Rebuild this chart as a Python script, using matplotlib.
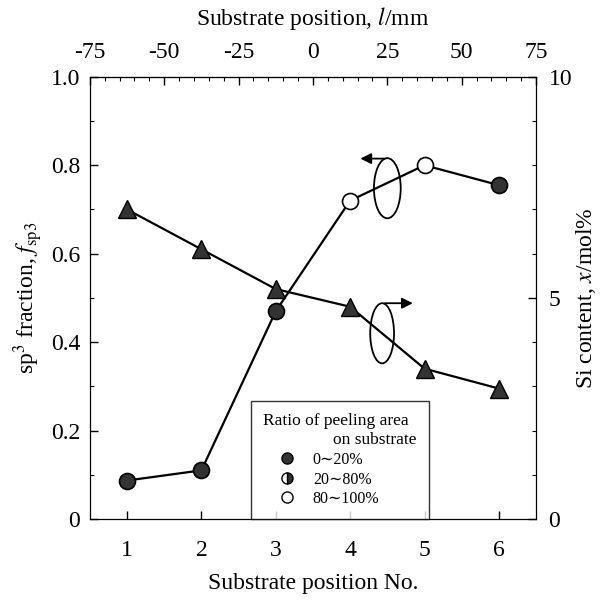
import matplotlib
matplotlib.use("Agg")
import matplotlib.pyplot as plt
from matplotlib.lines import Line2D
from matplotlib.patches import Ellipse
from matplotlib.ticker import MultipleLocator, FixedLocator, FuncFormatter

plt.rcParams['font.family'] = ['Liberation Serif', 'DejaVu Serif']
plt.rcParams['mathtext.fontset'] = 'stix'
plt.rcParams['axes.unicode_minus'] = False

# data
position_no = [1, 2, 3, 4, 5, 6]
sp3_fraction = [0.087, 0.11, 0.47, 0.72, 0.80, 0.755]
peeling_class = ['low', 'low', 'low', 'high', 'high', 'low']
si_content = [7.0, 6.1, 5.2, 4.8, 3.4, 2.95]
position_mm_ticks = [-75, -50, -25, 0, 25, 50, 75]

face = {'low': '#333333', 'mid': '#333333', 'high': 'white'}
ink = 'black'

fig = plt.figure(figsize=(6.03, 6.00), dpi=100)
ax = fig.add_axes([0.149, 0.135, 0.74, 0.737])

# sp3 fraction (left axis)
ax.plot(position_no, sp3_fraction, color=ink, lw=1.6, zorder=3)
for x, y, c in zip(position_no, sp3_fraction, peeling_class):
    ax.plot(x, y, 'o', ms=11.5, mfc=face[c], mec=ink, mew=1.2, zorder=4)

ax.set_xlim(0.5, 6.5)
ax.set_ylim(0, 1.0)
ax.xaxis.set_major_locator(MultipleLocator(1))
ax.yaxis.set_major_locator(MultipleLocator(0.2))
ax.yaxis.set_minor_locator(MultipleLocator(0.1))
ax.yaxis.set_major_formatter(FuncFormatter(lambda v, p: '0' if abs(v) < 1e-9 else f'{v:.1f}'))
ax.tick_params(which='both', direction='in', labelsize=17, top=False)
ax.tick_params(which='major', length=6, width=1)
ax.tick_params(which='minor', length=3, width=0.8)
ax.tick_params(axis='x', pad=15)
ax.tick_params(axis='y', pad=7)
ax.set_xlabel('Substrate position No.', fontsize=17, labelpad=9)
ax.set_ylabel(r'sp$^3$ fraction, $f_{\rm sp3}$', fontsize=17, labelpad=4)

# Si content (right axis)
ax2 = ax.twinx()
ax2.plot(position_no, si_content, '-^', color=ink, lw=1.6, ms=13,
         mfc='#333333', mec=ink, mew=1.0, zorder=3)
ax2.set_ylim(0, 10)
ax2.yaxis.set_major_locator(MultipleLocator(5))
ax2.yaxis.set_minor_locator(MultipleLocator(1))
ax2.tick_params(which='both', direction='in', labelsize=17, pad=9)
ax2.tick_params(which='major', length=6, width=1)
ax2.tick_params(which='minor', length=3, width=0.8)
ax2.set_ylabel(r'Si content, $x$/mol%', fontsize=17, labelpad=1)

# top axis: substrate position in mm
top = ax.secondary_xaxis('top', functions=(lambda x: (x - 3.5) * 25,
                                           lambda l: l / 25 + 3.5))
top.xaxis.set_major_locator(FixedLocator(position_mm_ticks))
top.xaxis.set_minor_locator(FixedLocator(list(range(-75, 76, 5))))
top.tick_params(which='both', direction='in', labelsize=17, pad=10)
top.tick_params(which='major', length=6, width=1)
top.tick_params(which='minor', length=3, width=0.8)
top.set_xlabel(r'Substrate position, $l$/mm', fontsize=17, labelpad=12)

# ellipse + arrow markers showing which axis each curve uses
ax.add_patch(Ellipse((4.5, 0.748), 0.36, 0.136, fill=False, ec=ink, lw=1.3, zorder=5))
ax.annotate('', xy=(4.1, 0.815), xytext=(4.5, 0.815),
            arrowprops=dict(arrowstyle='-|>', color=ink, lw=1.3, mutation_scale=16))
ax.add_patch(Ellipse((4.43, 0.42), 0.32, 0.136, fill=False, ec=ink, lw=1.3, zorder=5))
ax.annotate('', xy=(4.88, 0.488), xytext=(4.43, 0.488),
            arrowprops=dict(arrowstyle='-|>', color=ink, lw=1.3, mutation_scale=16))

# legend for peeling area
handles = [
    Line2D([], [], ls='none', marker='o', ms=8, mfc='#333333', mec=ink),
    Line2D([], [], ls='none', marker='o', ms=8, mfc='#333333', mec=ink,
           fillstyle='right', markerfacecoloralt='white'),
    Line2D([], [], ls='none', marker='o', ms=8, mfc='white', mec=ink),
]
labels = ['0\u223c20%', '20\u223c80%', '80\u223c100%']
leg = ax2.legend(handles, labels, title='Ratio of peeling area\n                on substrate',
                 loc='lower left', bbox_to_anchor=(0.362, 0.0), fontsize=11.5,
                 title_fontsize=12.5, frameon=True, fancybox=False,
                 handletextpad=0.2, labelspacing=0.22, borderpad=0.75,
                 borderaxespad=0.0, handlelength=2.9)
leg._legend_box.align = 'left'
leg.get_title().set_linespacing(1.3)
leg.get_frame().set_edgecolor(ink)
leg.get_frame().set_linewidth(1.0)

fig.savefig('out.png', dpi=100)
